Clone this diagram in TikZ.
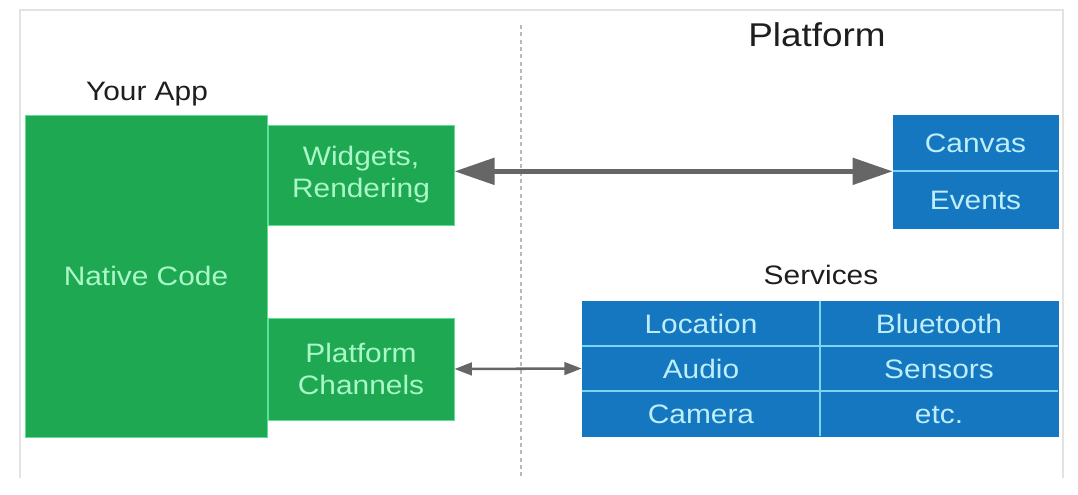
\documentclass[tikz,border=0pt]{standalone}
\usepackage{fontspec}
\setmainfont{Liberation Sans}[FakeStretch=1.12]
\usetikzlibrary{arrows.meta}
\definecolor{gfill}{RGB}{30,168,82}
\definecolor{gedge}{RGB}{95,222,152}
\definecolor{gtext}{RGB}{170,248,200}
\definecolor{bfill}{RGB}{20,119,192}
\definecolor{bedge}{RGB}{125,212,240}
\definecolor{btext}{RGB}{190,238,250}
\definecolor{arrcol}{RGB}{102,102,102}
\definecolor{framecol}{RGB}{226,226,226}
\definecolor{divcol}{RGB}{185,185,185}
\definecolor{lblcol}{RGB}{30,30,30}
\newcommand\fszA{\fontsize{20pt}{24pt}\selectfont}
\newcommand\fszB{\fontsize{24.7pt}{29pt}\selectfont}
\begin{document}
\begin{tikzpicture}[x=0.75pt,y=-0.75pt,
  gbox/.style={fill=gfill, draw=gedge, line width=0.75pt, text=gtext, align=center, inner sep=0pt, font=\fszA},
  cell/.style={fill=bfill, draw=bfill, line width=0.5pt, text=btext, inner sep=0pt, font=\fszA, text height=14.3pt, text depth=0pt},
  gridcell/.style={cell, minimum width=178.5pt, minimum height=33.75pt},
  lbl/.style={text=lblcol, inner sep=0pt, font=\fszA, text height=14.3pt, text depth=0pt},
  sep/.style={draw=bedge, line width=1.5pt},
  bigarrow/.style={draw=arrcol, line width=3.75pt, {Triangle[length=30pt,width=19.5pt]}-{Triangle[length=30pt,width=19.5pt]}},
  smallarrow/.style={draw=arrcol, line width=1.9pt, {Triangle[length=13pt,width=9.5pt]}-{Triangle[length=13pt,width=9.5pt]}}
]
\useasboundingbox (0,0) rectangle (1078,494);
% frame
\draw[framecol, line width=0.9pt] (20,478) -- (20,10) -- (1063,10) -- (1063,478);
% divider
\coordinate (divtop) at (521,25);
\coordinate (divbot) at (521,478);
\draw[divcol, line width=1.1pt, dash pattern=on 3pt off 2.5pt] (divtop) -- (divbot);
% labels
\node[lbl] (yourapp) at (147,91) {Your App};
\node[lbl, font=\fszB, text height=17.7pt] (platform) at (817,35) {Platform};
\node[lbl] (services) at (821,275) {Services};
% green boxes
\node[gbox, minimum width=181.5pt, minimum height=241.5pt, text height=14.3pt, text depth=0pt] (native) at (146,276) {Native Code};
\node[gbox, minimum width=139.5pt, minimum height=75pt] (widgets) at (361,175) {Widgets,\\Rendering};
\node[gbox, minimum width=139.5pt, minimum height=76.5pt] (channels) at (361,369) {Platform\\Channels};
% canvas / events
\node[cell, minimum width=123.75pt, minimum height=42pt] (canvas) at (975.5,143) {Canvas};
\node[cell, minimum width=123.75pt, minimum height=42.75pt] (events) at (975.5,199.5) {Events};
\draw[sep] (canvas.south west) -- (canvas.south east);
% services grid
\node[gridcell] (loc) at (701,323.5) {Location};
\node[gridcell] (blu) at (939,323.5) {Bluetooth};
\node[gridcell] (aud) at (701,368.5) {Audio};
\node[gridcell] (sen) at (939,368.5) {Sensors};
\node[gridcell] (cam) at (701,413.5) {Camera};
\node[gridcell] (etc) at (939,413.5) {etc.};
\draw[sep] (loc.south west) -- (blu.south east);
\draw[sep] (aud.south west) -- (sen.south east);
\draw[sep] (loc.north east) -- (cam.south east);
% arrows
\draw[bigarrow] (widgets.east |- canvas.south west) -- (canvas.south west);
\draw[smallarrow] (channels.east) -- (aud.west);
\end{tikzpicture}
\end{document}
